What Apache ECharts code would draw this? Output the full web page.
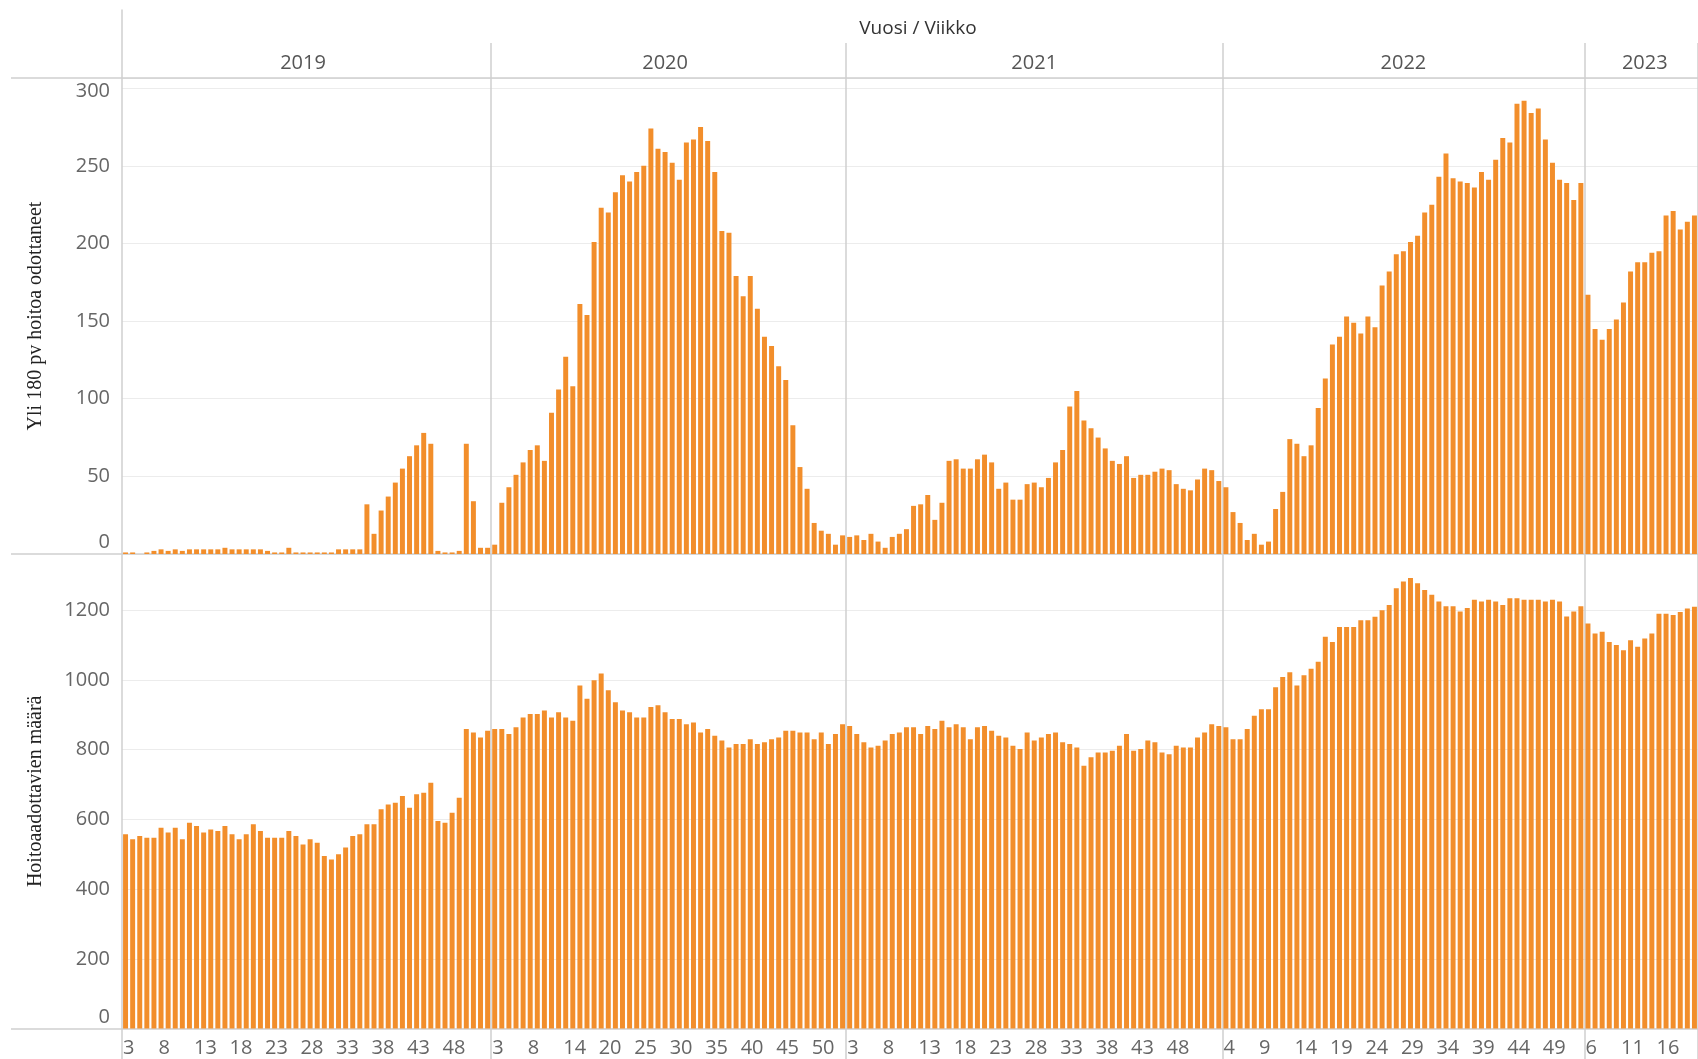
<!DOCTYPE html>
<html><head><meta charset="utf-8">
<script src="https://cdn.jsdelivr.net/npm/echarts@6/dist/echarts.min.js"></script>
<style>html,body{margin:0;padding:0;background:#fff}#c{width:1698px;height:1059px}</style>
</head><body><div id="c"></div>
<script>
// ---- categories (year / week) ----
const years = ['2019', '2020', '2021', '2022', '2023'];
const weeks2019 = [3,4,5,6,7,8,9,10,11,12,13,14,15,16,17,18,19,20,21,22,23,24,25,26,27,28,29,30,31,32,33,34,35,36,37,38,39,40,41,42,43,44,45,46,47,48,49,50,51,52,53,54];
const weeks2020 = [3,4,5,6,7,8,10,11,12,13,14,16,17,18,19,20,21,22,23,24,25,26,27,28,29,30,31,32,33,34,35,36,37,38,39,40,41,42,43,44,45,46,47,48,49,50,51,52,53,54];
const weeks2021 = [3,4,5,6,7,8,9,10,11,12,13,14,15,16,17,18,19,20,21,22,23,24,25,26,27,28,29,30,31,32,33,34,35,36,37,38,39,40,41,42,43,44,45,46,47,48,49,50,51,52,53,54,55];
const weeks2022 = [4,5,6,7,8,9,10,11,12,13,14,15,16,17,18,19,20,21,22,23,24,25,26,27,28,29,30,31,32,33,34,35,36,37,38,39,40,41,42,43,44,45,46,47,48,49,50,51,52,53,54];
const weeks2023 = [6,7,8,9,10,11,12,13,14,15,16,17,18,19,20,21];

// ---- tick labels shown on the week axis ----
const ticks2019 = [3,8,13,18,23,28,33,38,43,48];
const ticks2020 = [3,8,14,20,25,30,35,40,45,50];
const ticks2021 = [3,8,13,18,23,28,33,38,43,48];
const ticks2022 = [4,9,14,19,24,29,34,39,44,49];
const ticks2023 = [6,11,16];

// ---- Yli 180 pv hoitoa odottaneet ----
const over180_2019 = [1,1,0,1,2,3,2,3,2,3,3,3,3,3,4,3,3,3,3,3,2,1,1,4,1,1,1,1,1,1,3,3,3,3,32,13,28,37,46,55,63,70,78,71,2,1,1,2,71,34,4,4];
const over180_2020 = [6,33,43,51,59,67,70,60,91,106,127,108,161,154,201,223,220,233,244,240,246,250,274,261,259,252,241,265,267,275,266,246,208,207,179,166,179,158,140,134,121,112,83,56,42,20,15,13,6,12];
const over180_2021 = [11,12,9,13,8,4,11,13,16,31,32,38,22,33,60,61,55,55,61,64,59,42,46,35,35,45,46,43,49,59,67,95,105,86,81,75,68,60,58,63,49,51,51,53,55,54,45,42,41,48,55,54,47];
const over180_2022 = [43,27,20,9,13,6,8,29,40,74,71,63,70,94,113,135,140,153,149,142,153,146,173,182,193,195,201,205,220,225,243,258,242,240,239,236,246,241,254,268,265,290,292,284,287,267,252,241,239,228,239];
const over180_2023 = [167,145,138,145,151,162,182,188,188,194,195,218,221,209,214,218];

// ---- Hoitoaadottavien määrä ----
const waiting2019 = [557,543,552,547,547,576,562,576,543,590,581,562,571,567,581,557,543,557,586,567,547,547,547,567,552,528,543,533,495,485,500,519,552,557,586,586,629,643,648,667,633,672,676,705,595,590,619,662,859,849,835,854];
const waiting2020 = [859,859,845,864,892,902,902,912,892,907,892,883,984,946,999,1018,970,936,912,907,892,892,922,927,907,888,888,873,878,849,859,840,826,806,816,816,830,816,821,830,835,854,854,849,849,830,849,816,845,873];
const waiting2021 = [868,845,821,806,811,826,845,849,864,864,845,868,859,883,864,873,864,830,864,868,854,840,835,811,802,849,826,835,845,849,821,816,806,754,778,792,792,797,811,845,797,802,826,821,792,787,811,806,806,835,849,873,868];
const waiting2022 = [864,830,830,859,897,916,916,979,1008,1022,984,1013,1032,1052,1124,1109,1152,1152,1152,1171,1171,1181,1200,1215,1263,1282,1292,1277,1258,1244,1225,1211,1211,1196,1206,1230,1225,1230,1225,1215,1234,1234,1230,1230,1230,1225,1230,1225,1182,1196,1211];
const waiting2023 = [1162,1133,1138,1109,1100,1085,1114,1095,1119,1133,1190,1190,1186,1195,1205,1210];

// ---- build library structures ----
const weeksByYear = [weeks2019, weeks2020, weeks2021, weeks2022, weeks2023];
const ticksByYear = [ticks2019, ticks2020, ticks2021, ticks2022, ticks2023];
const categories = [];
const tickSet = new Set();
const yearStartIdx = new Set();
const headerIdx = new Set();
const headerOffset = [25, 24, 26, 25, 8];
weeksByYear.forEach((ws, yi) => {
  if (yi > 0) yearStartIdx.add(categories.length);
  headerIdx.add(categories.length + headerOffset[yi]);
  ws.forEach(w => {
    const key = years[yi] + '-' + w;
    categories.push(key);
    if (ticksByYear[yi].indexOf(w) >= 0) tickSet.add(key);
  });
});
const over180 = [].concat(over180_2019, over180_2020, over180_2021, over180_2022, over180_2023);
const waiting = [].concat(waiting2019, waiting2020, waiting2021, waiting2022, waiting2023);

const SANS = 'Open Sans';
const SERIF = 'Liberation Serif';
const tickColor = '#666';
const frameColor = '#cfcfcf';
const gridColor = '#ececec';
const barColor = '#f28e2b';

const chart = echarts.init(document.getElementById('c'), null, {renderer: 'canvas'});
chart.setOption({
  animation: false,
  backgroundColor: '#fff',
  title: {
    text: 'Vuosi / Viikko', left: 913, top: 14, textAlign: 'center',
    textStyle: {fontFamily: SANS, fontSize: 19, fontWeight: 'normal', color: '#333'}
  },
  grid: [
    {left: 122, right: 0, top: 78, height: 476},
    {left: 122, right: 0, top: 554, bottom: 30.4},
    {left: 11, right: 0, top: 78, bottom: 30.4},
    {left: 122, right: 0, top: 43, bottom: 0},
    {left: 122, width: 10, top: 10, bottom: 0}
  ],
  xAxis: [
    {gridIndex: 0, type: 'category', data: categories, show: false},
    {gridIndex: 1, type: 'category', data: categories,
      axisLine: {show: false}, axisTick: {show: false}, splitLine: {show: false},
      axisLabel: {
        interval: (i, v) => tickSet.has(v),
        formatter: v => '{w|' + v.split('-')[1] + '}',
        align: 'center', margin: 10, fontFamily: SANS, fontSize: 20, color: tickColor,
        rich: {w: {width: 5, align: 'left', fontFamily: SANS, fontSize: 20, color: tickColor}}
      }
    },
    {gridIndex: 2, type: 'value', show: false},
    {gridIndex: 3, type: 'category', data: categories, position: 'top',
      axisLine: {show: false}, axisTick: {show: false},
      axisLabel: {
        inside: true, margin: 10,
        interval: (i) => headerIdx.has(i),
        formatter: v => v.split('-')[0],
        fontFamily: SANS, fontSize: 20, color: '#555'
      },
      splitLine: {show: true, interval: (i) => yearStartIdx.has(i),
        lineStyle: {color: frameColor, width: 1.5}}
    },
    {gridIndex: 4, type: 'value', show: false}
  ],
  yAxis: [
    {gridIndex: 0, type: 'value', min: 0, max: 306.6, interval: 50,
      axisLine: {show: false}, axisTick: {show: false},
      splitLine: {lineStyle: {color: gridColor, width: 1}},
      axisLabel: {
        margin: 12, fontFamily: SANS, fontSize: 20, color: tickColor, showMaxLabel: false,
        formatter: v => v === 0 ? '{z|0}' : (v === 300 ? '{t|300}' : String(v)),
        rich: {
          z: {padding: [0, 0, 23, 0], fontFamily: SANS, fontSize: 20, color: tickColor},
          t: {padding: [7, 0, 0, 0], fontFamily: SANS, fontSize: 20, color: tickColor}
        }
      },
      name: 'Yli 180 pv hoitoa odottaneet', nameLocation: 'middle', nameGap: 76, nameRotate: 90,
      nameTextStyle: {fontFamily: SERIF, fontSize: 20, color: '#222'}
    },
    {gridIndex: 1, type: 'value', min: 0, max: 1361, interval: 200,
      axisLine: {show: false}, axisTick: {show: false},
      splitLine: {lineStyle: {color: gridColor, width: 1}},
      axisLabel: {
        margin: 12, fontFamily: SANS, fontSize: 20, color: tickColor, showMaxLabel: false,
        formatter: v => v === 0 ? '{z|0}' : String(v),
        rich: {
          z: {padding: [0, 0, 23, 0], fontFamily: SANS, fontSize: 20, color: tickColor}
        }
      },
      name: 'Hoitoaadottavien määrä', nameLocation: 'middle', nameGap: 76, nameRotate: 90,
      nameTextStyle: {fontFamily: SERIF, fontSize: 20, color: '#222'}
    },
    {gridIndex: 2, type: 'value', min: 0, max: 2, interval: 1,
      axisLine: {show: false}, axisTick: {show: false}, axisLabel: {show: false},
      splitLine: {show: true, lineStyle: {color: frameColor, width: 1.5}}
    },
    {gridIndex: 3, type: 'value', show: false},
    {gridIndex: 4, type: 'value', min: 0, max: 1,
      axisLine: {show: true, lineStyle: {color: frameColor, width: 1.5}},
      axisTick: {show: false}, axisLabel: {show: false}, splitLine: {show: false}
    }
  ],
  series: [
    {type: 'bar', xAxisIndex: 0, yAxisIndex: 0, data: over180, barCategoryGap: '30%',
      itemStyle: {color: barColor}, silent: true},
    {type: 'bar', xAxisIndex: 1, yAxisIndex: 1, data: waiting, barCategoryGap: '30%',
      itemStyle: {color: barColor}, silent: true}
  ]
});
</script></body></html>
